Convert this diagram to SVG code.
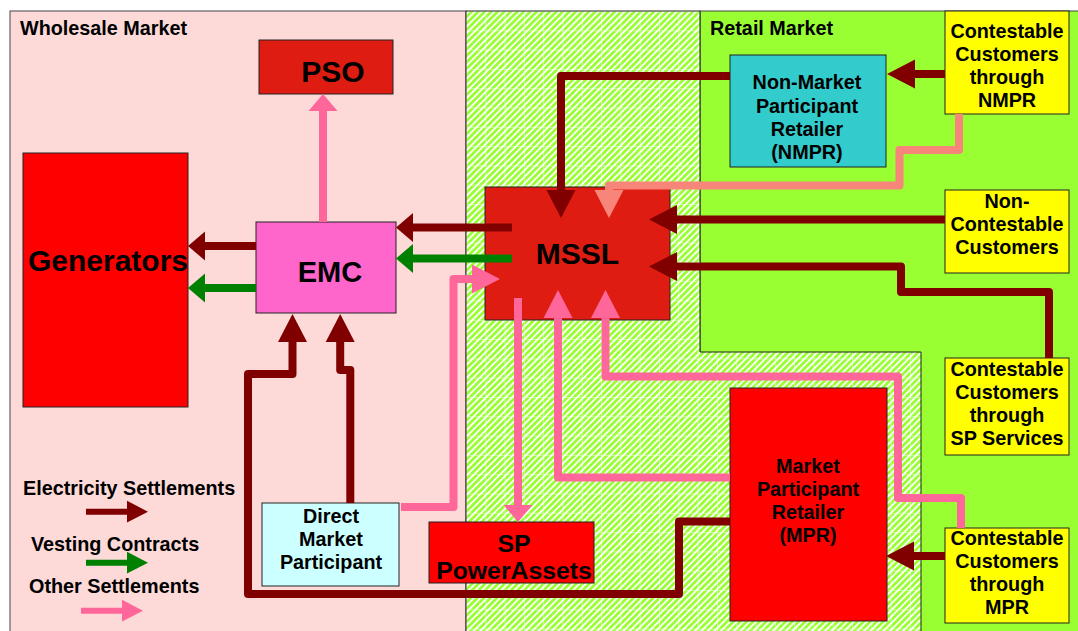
<svg xmlns="http://www.w3.org/2000/svg" width="1078" height="631" viewBox="0 0 1078 631">
<style>
text{font-family:"Liberation Sans",Arial,sans-serif;font-weight:bold;fill:#000;text-anchor:middle}
.lbl{font-size:19.8px}
.big{font-size:30px}
.legend{text-anchor:start}
.box{stroke:#222;stroke-width:1}
.ln{fill:none;stroke-width:8;stroke-linejoin:round}
.red{stroke:#800000}
.grn{stroke:#008000}
.pnk{stroke:#FF6699}
.sal{stroke:#F8857A}
</style>
<defs>
<pattern id="stripes" width="4.6" height="4.6" patternUnits="userSpaceOnUse" patternTransform="rotate(45)">
<rect width="4.6" height="4.6" fill="#fff"/>
<rect width="2.8" height="4.6" fill="#99FF33"/>
</pattern>
<pattern id="grid" width="19.3" height="19.3" patternUnits="userSpaceOnUse" x="466" y="11">
<path d="M0,0.5H19.3M0.5,0V19.3" stroke="#fff" stroke-opacity="0.5" stroke-width="1" fill="none"/>
</pattern>
<marker id="aRedL" markerWidth="4" markerHeight="4" refX="0" refY="1.8125" orient="auto" overflow="visible"><path d="M0,0L3.5,1.8125L0,3.625z" fill="#800000"/></marker>
<marker id="aRedS" markerWidth="4" markerHeight="4" refX="0" refY="1.8125" orient="auto" overflow="visible"><path d="M0,0L2.125,1.8125L0,3.625z" fill="#800000"/></marker>
<marker id="aGrnL" markerWidth="4" markerHeight="4" refX="0" refY="1.8125" orient="auto" overflow="visible"><path d="M0,0L3.5,1.8125L0,3.625z" fill="#008000"/></marker>
<marker id="aGrnS" markerWidth="4" markerHeight="4" refX="0" refY="1.8125" orient="auto" overflow="visible"><path d="M0,0L2.125,1.8125L0,3.625z" fill="#008000"/></marker>
<marker id="aPnkL" markerWidth="4" markerHeight="4" refX="0" refY="1.8125" orient="auto" overflow="visible"><path d="M0,0L3.5,1.8125L0,3.625z" fill="#FF6699"/></marker>
<marker id="aPnkS" markerWidth="4" markerHeight="4" refX="0" refY="1.8125" orient="auto" overflow="visible"><path d="M0,0L2.125,1.8125L0,3.625z" fill="#FF6699"/></marker>
<marker id="aSalL" markerWidth="4" markerHeight="4" refX="0" refY="1.8125" orient="auto" overflow="visible"><path d="M0,0L3.5,1.8125L0,3.625z" fill="#F8857A"/></marker>
</defs>
<rect width="1078" height="631" fill="#fff"/>
<g id="regions">
<rect x="10" y="11" width="456" height="630" fill="#FDDAD8" stroke="#444" stroke-width="1"/>
<rect x="700" y="11" width="386" height="630" fill="#99FF33" stroke="#444" stroke-width="1"/>
<path d="M466,11H700V352H921V641H466Z" fill="url(#stripes)"/>
<path d="M466,11H700V352H921V641H466Z" fill="url(#grid)" stroke="#222" stroke-width="1"/>
<text class="lbl legend" x="20" y="35">Wholesale Market</text>
<text class="lbl legend" x="710" y="35">Retail Market</text>
</g>
<g id="node-pso">
<rect class="box" x="259" y="40" width="134" height="54" fill="#DF1C12"/>
<text class="big" x="333" y="82">PSO</text>
</g>
<g id="node-generators">
<rect class="box" x="23" y="153" width="165" height="254" fill="#FF0000"/>
<text class="big" x="108" y="271">Generators</text>
</g>
<g id="node-emc">
<rect class="box" x="256" y="222" width="140" height="91" fill="#FF66CC"/>
<text x="330" y="282" style="font-size:29px">EMC</text>
</g>
<g id="node-mssl">
<rect class="box" x="485" y="187" width="185" height="133" fill="#DF1C12"/>
<text class="big" x="577.5" y="264">MSSL</text>
</g>
<g id="node-nmpr">
<rect class="box" x="730" y="55" width="156" height="112" fill="#33CCCC"/>
<text class="lbl" x="807" y="89">Non-Market</text>
<text class="lbl" x="807" y="112.5">Participant</text>
<text class="lbl" x="807" y="136">Retailer</text>
<text class="lbl" x="807" y="159">(NMPR)</text>
</g>
<g id="node-cc-nmpr">
<rect class="box" x="945" y="11" width="124" height="103" fill="#FFFF00"/>
<text class="lbl" x="1007" y="38">Contestable</text>
<text class="lbl" x="1007" y="61">Customers</text>
<text class="lbl" x="1007" y="84">through</text>
<text class="lbl" x="1007" y="107">NMPR</text>
</g>
<g id="node-noncontestable">
<rect class="box" x="945" y="190" width="124" height="83" fill="#FFFF00"/>
<text class="lbl" x="1007" y="208">Non-</text>
<text class="lbl" x="1007" y="231">Contestable</text>
<text class="lbl" x="1007" y="254">Customers</text>
</g>
<g id="node-cc-sp">
<rect class="box" x="945" y="358" width="124" height="97" fill="#FFFF00"/>
<text class="lbl" x="1007" y="376">Contestable</text>
<text class="lbl" x="1007" y="399">Customers</text>
<text class="lbl" x="1007" y="422">through</text>
<text class="lbl" x="1007" y="445">SP Services</text>
</g>
<g id="node-cc-mpr">
<rect class="box" x="945" y="528" width="124" height="95" fill="#FFFF00"/>
<text class="lbl" x="1007" y="545">Contestable</text>
<text class="lbl" x="1007" y="567.5">Customers</text>
<text class="lbl" x="1007" y="590.5">through</text>
<text class="lbl" x="1007" y="614">MPR</text>
</g>
<g id="node-mpr">
<rect class="box" x="730" y="388" width="157" height="233" fill="#FF0000"/>
<text class="lbl" x="808" y="473">Market</text>
<text class="lbl" x="808" y="496">Participant</text>
<text class="lbl" x="808" y="519">Retailer</text>
<text class="lbl" x="808" y="542">(MPR)</text>
</g>
<g id="node-dmp">
<rect class="box" x="262" y="503" width="137" height="83" fill="#CCFFFF"/>
<text class="lbl" x="331" y="523">Direct</text>
<text class="lbl" x="331" y="546">Market</text>
<text class="lbl" x="331" y="569">Participant</text>
</g>
<g id="node-sppa">
<rect class="box" x="429" y="522" width="165" height="61" fill="#FF0000"/>
<text x="514" y="552" style="font-size:24.8px">SP</text>
<text x="514" y="579" style="font-size:24.8px">PowerAssets</text>
</g>
<g id="connectors">
<path class="ln pnk" d="M323,222V111" marker-end="url(#aPnkS)"/>
<path class="ln red" d="M256,246H205" marker-end="url(#aRedS)"/>
<path class="ln grn" d="M256,288H205" marker-end="url(#aGrnS)"/>
<path class="ln red" d="M512,227.5H413" marker-end="url(#aRedS)"/>
<path class="ln grn" d="M512,258.5H413" marker-end="url(#aGrnS)"/>
<path class="ln pnk" d="M401,507H453.5V279H472" marker-end="url(#aPnkL)"/>
<path class="ln red" d="M350.3,503V370H340.2V342" marker-end="url(#aRedL)"/>
<path class="ln red" d="M730,521.5H679V594H248V374H292.5V342" marker-end="url(#aRedL)"/>
<path class="ln pnk" d="M518,298V505" marker-end="url(#aPnkS)"/>
<path class="ln pnk" d="M730,477.5H558V318" marker-end="url(#aPnkL)"/>
<path class="ln pnk" d="M961,528V498H898V376.5H605.5V318" marker-end="url(#aPnkL)"/>
<path class="ln red" d="M945,556H914" marker-end="url(#aRedL)"/>
<path class="ln red" d="M1049,358V292H901V266.5H677" marker-end="url(#aRedL)"/>
<path class="ln red" d="M945,219.5H677" marker-end="url(#aRedL)"/>
<path class="ln sal" d="M959,114V150H899.5V185.5H609V190" marker-end="url(#aSalL)"/>
<path class="ln red" d="M730,76H561V190" marker-end="url(#aRedL)"/>
<path class="ln red" d="M945,74H915" marker-end="url(#aRedL)"/>
</g>
<g id="legend">
<text class="lbl legend" x="23" y="495">Electricity Settlements</text>
<path class="ln red" d="M86,511.7H127" style="stroke-width:6" marker-end="url(#aRedL)"/>
<text class="lbl legend" x="31" y="551">Vesting Contracts</text>
<path class="ln grn" d="M86,562.7H127" style="stroke-width:6" marker-end="url(#aGrnL)"/>
<text class="lbl legend" x="29" y="593">Other Settlements</text>
<path class="ln pnk" d="M81,610.7H122" style="stroke-width:6" marker-end="url(#aPnkL)"/>
</g>
</svg>
